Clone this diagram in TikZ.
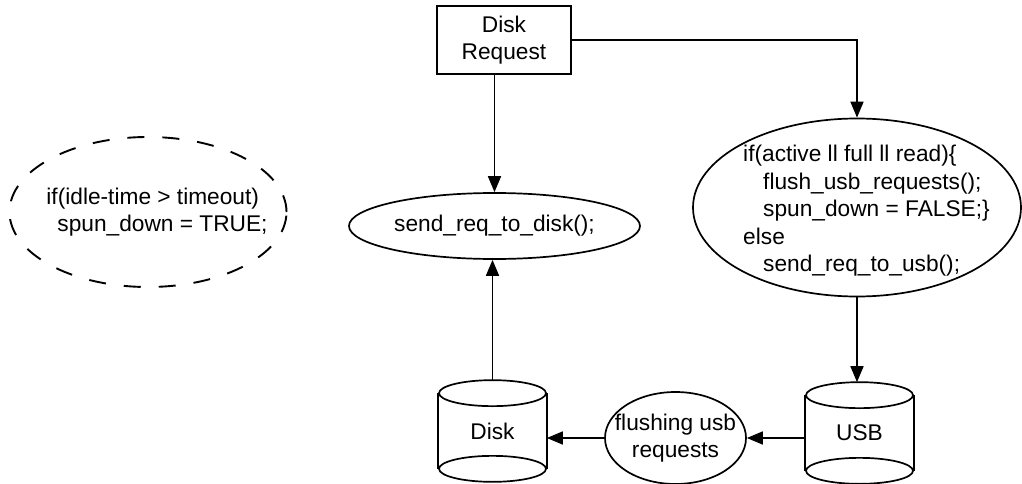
\documentclass[tikz,border=0pt]{standalone}
\usepackage{fontspec}
\setmainfont{Liberation Sans}
\usetikzlibrary{shapes.geometric,arrows.meta}

% cylinder outline drawn around a rectangular node
\newcommand\drawstore[1]{%
  \draw ([yshift=-13pt]#1.north) ellipse [x radius=53.5pt, y radius=13pt];
  \draw ([yshift=13pt]#1.south) ellipse [x radius=53.5pt, y radius=13pt];
  \draw ([yshift=-13pt]#1.north west) -- ([yshift=13pt]#1.south west);
  \draw ([yshift=-13pt]#1.north east) -- ([yshift=13pt]#1.south east);
}
% left padding used to move a left-aligned text block to the right
\newcommand\lpad[1]{\hspace*{#1}}

\begin{document}
\begin{tikzpicture}[x=1pt, y=-1pt, line width=1.7pt,
  every node/.style={font=\fontsize{22.7}{27.5}\selectfont, inner sep=0pt},
  reqbox/.style={draw, rectangle, minimum width=134pt, minimum height=68pt, align=center},
  action/.style={draw, ellipse, align=left, inner sep=-40pt},
  monitor/.style={action, dash pattern=on 17pt off 18pt, line width=1.9pt},
  store/.style={rectangle, minimum width=107pt, minimum height=100pt},
  conn/.style={-{Triangle[length=16pt, width=13pt]}}]

\useasboundingbox (0,0) rectangle (1022,484);

% nodes
\node[reqbox] (req) at (504,40) {Disk\\Request};
\node[action, minimum width=291pt, minimum height=66pt] (senddisk) at (494.5,226) {send\_req\_to\_disk();};
\node[action, minimum width=328pt, minimum height=178pt] (decide) at (857,207.5)
  {\rule{0pt}{23pt}\lpad{19pt}if(active ll full ll read)\{\\
   \lpad{39pt}flush\_usb\_requests();\\
   \lpad{39pt}spun\_down = FALSE;\}\\
   \lpad{19pt}else\\
   \lpad{39pt}send\_req\_to\_usb();};
\node[monitor, minimum width=277pt, minimum height=150pt] (idle) at (148,212)
  {\lpad{18pt}if(idle-time > timeout)\\\lpad{29pt}spun\_down = TRUE;};
\node[action, align=center, minimum width=141pt, minimum height=92pt] (flush) at (675.5,438)
  {flushing usb\\requests};
\node[store] (disk) at (492.5,431) {Disk};
\node[store] (usb) at (859.5,433) {USB};
\drawstore{disk}
\drawstore{usb}

% connectors
\draw[conn] (req.south -| senddisk.north) -- (senddisk.north);
\draw[conn] (req.east) -| (decide.north);
\draw[conn] (decide.south) -- (decide.south |- usb.north);
\draw[conn] (usb.west |- flush.east) -- (flush.east);
\draw[conn] (flush.west) -- (flush.west -| disk.east);
\draw[conn] (disk.north) -- (disk.north |- senddisk.south);
\end{tikzpicture}
\end{document}
